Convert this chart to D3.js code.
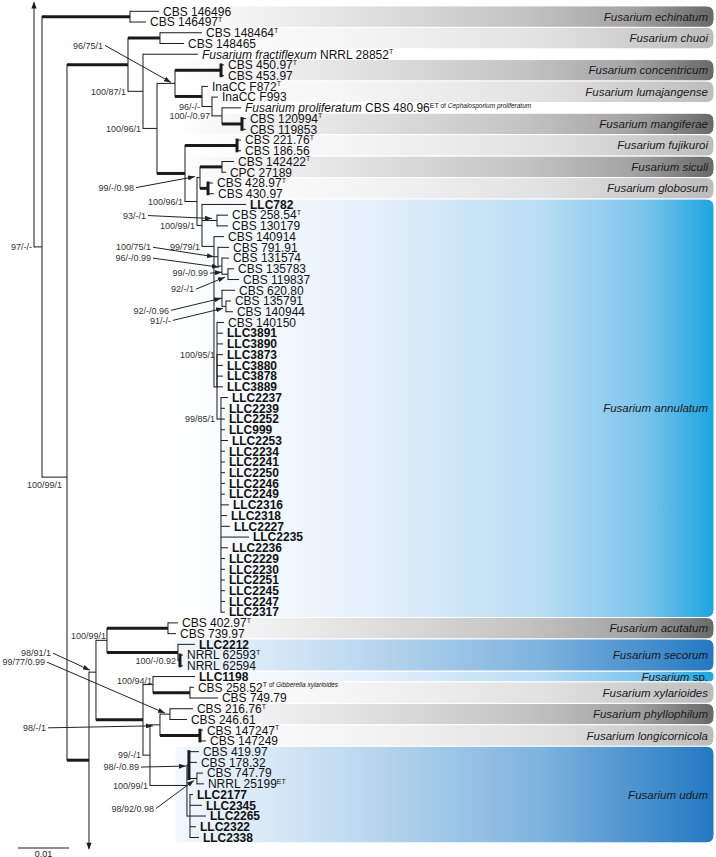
<!DOCTYPE html>
<html><head><meta charset="utf-8">
<script src="https://cdn.jsdelivr.net/npm/d3@7"></script>
<style>
html,body{margin:0;padding:0;background:#fff;}
svg{display:block;font-family:"Liberation Sans",Arial,Helvetica,sans-serif;}
text{white-space:pre;}
</style></head><body>
<svg id="chart" width="716" height="857"></svg>
<script>
// ---------------- DATA ----------------
// Phylogeny (branch lengths in substitutions/site), tips t1..t78 in display order
const treeNewick = `(^:0,(
(t1:0.00569,t2:0.00314)E:0.01725,
(
 (
  (t3:0.00824,t4:0.00471)Ch:0.00627,
  (t5:0.01078,
   (
    (
     (t6:0.00059,t7:0.00059)Conc:0.00902,
     (t8:0.00118,(t9:0.00118,(t10:0.00373,(t11:0.00078,t12:0.00078)Mang:0.00392)M3:0.00196)M2:0.00196)M:0.00529
    )S:0.00353,
    (
     (t13:0.00078,t14:0.00078)Fuj:0.0102,
     (
      ((t15:0.00235,t16:0.00078)Sic:0.00431,(t17:0.00098,t18:0.00118)Glob:0.00157)SG:0.00059,
      (t19:0.00863,
       (t20:0.00216,t21:0.00216)Pr:0.00294,
       (t22:0.00196,
        (t23:0.00216,(t24:0.00137,(t25:0.00118,t26:0.00216)Pb:0.00118)Ga:0.00078)G2:0.00078,
        (t27:0.00255,(t28:0.00098,t29:0.00137)Pc:0.00078)Ng:0.00157,
        (
         (t30:0.00137,t31:0.00118,t32:0.00118,t33:0.00118,t34:0.00118,t35:0.00118,t36:0.00118)N95:0,
         (t37:0.00137,t38:0.00078,t39:0.00078,t40:0.00078,t41:0.00137,t42:0.00078,t43:0.00078,t44:0.00078,t45:0.00078,t46:0.00078,t47:0.00157,t48:0.00118,t49:0.00176,t50:0.00549,t51:0.00137,t52:0.00078,t53:0.00078,t54:0.00078,t55:0.00078,t56:0.00078,t57:0.00078)N85:0.00078
        )P1:0.00059
       )AX:0.00235
      )AN:0.00098
     )T2:0.00235
    )T:0.00549
   )R2:0.00275
  )R:0.00294
 )Q:0.01196,
 (
  (
   ((t58:0.00196,t59:0.00157)Acut:0.01196,(t60:0.00333,(t61:0.00059,t62:0.00059)Sec2:0.00039)Sec:0.01392)B:0.00216,
   (
    (t63:0.00824,(t64:0.00078,t65:0.00549)X2:0.00725)X1:0.00196,
    (
     ((t66:0.00451,t67:0.00333)Phy:0.00196,(t68:0.00059,t69:0.00118)Lon:0.00784)P:0.00196,
     ((t70:0.00196,t71:0.00157,(t72:0.00118,t73:0.00137)U3:0.00157)U1:0.00039,(t74:0.00059,t75:0.00235,t76:0.00314,t77:0.00118,t78:0.00176)UL:0.00059)U:0.00725
    )D:0.00137
   )C:0.00922
  )A:0.00137,
  v:0
 )B2:0.00431
)N2:0.0049
)N1:0.00157)root;`;

// Tip labels (*italic*, ^superscript, [small note])
const tipLabels = [
 "CBS 146496","CBS 146497^T","CBS 148464^T","CBS 148465",
 "*Fusarium fractiflexum* NRRL 28852^T","CBS 450.97^T","CBS 453.97",
 "InaCC F872^T","InaCC F993",
 "*Fusarium proliferatum* CBS 480.96^ET[ of *Cephalosporium proliferatum*]",
 "CBS 120994^T","CBS 119853","CBS 221.76^T","CBS 186.56","CBS 142422^T","CPC 27189",
 "CBS 428.97^T","CBS 430.97","LLC782","CBS 258.54^T","CBS 130179","CBS 140914",
 "CBS 791.91","CBS 131574","CBS 135783","CBS 119837","CBS 620.80","CBS 135791",
 "CBS 140944","CBS 140150","LLC3891","LLC3890","LLC3873","LLC3880","LLC3878","LLC3889",
 "LLC2237","LLC2239","LLC2252","LLC999","LLC2253","LLC2234","LLC2241","LLC2250",
 "LLC2246","LLC2249","LLC2316","LLC2318","LLC2227","LLC2235","LLC2236","LLC2229",
 "LLC2230","LLC2251","LLC2245","LLC2247","LLC2317","CBS 402.97^T","CBS 739.97",
 "LLC2212","NRRL 62593^T","NRRL 62594","LLC1198",
 "CBS 258.52^T[ of *Gibberella xylarioides*]","CBS 749.79","CBS 216.76^T","CBS 246.61",
 "CBS 147247^T","CBS 147249","CBS 419.97","CBS 178.32","CBS 747.79","NRRL 25199^ET",
 "LLC2177","LLC2345","LLC2265","LLC2322","LLC2338"
];
const studyPrefix = "LLC";   // isolates of this study (bold)

// Species clades (bands)
const cladeNames = ["*Fusarium echinatum*","*Fusarium chuoi*","*Fusarium concentricum*",
 "*Fusarium lumajangense*","*Fusarium mangiferae*","*Fusarium fujikuroi*","*Fusarium siculi*",
 "*Fusarium globosum*","*Fusarium annulatum*","*Fusarium acutatum*","*Fusarium secorum*",
 "*Fusarium* sp.","*Fusarium xylarioides*","*Fusarium phyllophilum*","*Fusarium longicornicola*",
 "*Fusarium udum*"];
const cladeFirstTip = [1,3,6,8,11,13,15,17,19,58,60,63,64,66,68,70];
const cladeLastTip  = [2,4,7,9,12,14,16,18,57,59,62,63,65,67,69,78];
const cladeTone = ["dark","light","dark","light","dark","light","dark","light","cyan",
 "dark","blue","cyan","light","dark","light","blue"];

// Support values (ML bootstrap / MP bootstrap / posterior probability)
const supportNodes = ['N1','N2','R','S','R2','M2','M3','T2','SG','AN','Pr','AX','G2','Ga','Pb','Pb',
 'Ng','Pc','N95','N85','B','Sec2','A','X1','Phy','D','P','U','U1','U3'];
const supportValues = ['97/-/-','100/99/1','100/87/1','96/75/1','100/96/1','96/-/-','100/-/0.97',
 '100/96/1','99/-/0.98','100/99/1','93/-/1','99/79/1','100/75/1','96/-/0.99','99/-/0.99','92/-/1',
 '92/-/0.96','91/-/-','100/95/1','99/85/1','100/99/1','100/-/0.92','98/91/1','100/94/1',
 '99/77/0.99','99/-/1','98/-/1','100/99/1','98/-/0.89','98/92/0.98'];

// ---------------- LAYOUT / STYLE ----------------
const supportPlacement = ['left','below','left',[-4,-1,-68,-37],'left','left','left','left',
 [-5,-1,-61,11],'left',[-5,-2,-66,-3],'left',[-4,0,-63,-9.5],[-3,1,-68,-9],[-6,-2,-14,1],
 [-3,3,-31,12],[-1,0,-52,12],[-3,2,-52,12],'left','left','above','left',[-6,-2,-39,-17],
 'above',[-5,-1,-120,-51],'left',[-7,1,-107,2],'left',[-3,1,-47,1],[-3,2,-40,28]];
const nodeAnchor = {N2:0.593, AX:0.065, N85:0.1, A:0.4, U:0.4};
const arrowRows = {top:-0.77, bottom:78};
const boldBranches = ['E','Q','Ch','Conc','M','Mang','T','Fuj','Sic','Glob','B2','Acut','Sec','C','X2','Lon'];
const boldBrackets = ['Conc','Mang','Fuj','Glob','Lon','Sec2','U1'];
const toneStops = {
 dark: [[0,'#ffffff'],[0.3,'#e5e5e5'],[0.65,'#c3c3c3'],[0.85,'#a3a3a3'],[1,'#686868']],
 light:[[0,'#ffffff'],[0.35,'#f4f4f4'],[0.7,'#e0e0e0'],[1,'#bcbcbc']],
 cyan: [[0,'#ffffff'],[0.35,'#e6f1fb'],[0.68,'#b9ddf4'],[0.87,'#7cc4ec'],[1,'#1ba5e1']],
 blue: [[0,'#f3f8fd'],[0.35,'#bcd8ef'],[0.68,'#7db3de'],[1,'#2378c2']]
};

// ---------------- HELPERS ----------------
function parseNewick(str){
  const s = str.replace(/\s+/g,'');
  let i = 0;
  function node(){
    const n = {children:[]};
    if (s[i] === '('){ i++; do { n.children.push(node()); } while (s[i++] === ','); }
    let name=''; while(i<s.length && !',():;'.includes(s[i])) name += s[i++];
    n.name = name;
    n.len = 0;
    if (s[i] === ':'){ i++; let num=''; while(i<s.length && !',();'.includes(s[i])) num += s[i++]; n.len = +num; }
    if (!n.children.length) delete n.children;
    return n;
  }
  return node();
}
function parseMarkup(str){
  const out=[]; const re=/\*([^*]+)\*|\^([A-Z]+)|\[([^\]]+)\]|([^*^\[]+)/g; let m;
  while((m=re.exec(str))){
    if(m[1]) out.push({t:m[1],it:1});
    else if(m[2]) out.push({t:m[2],sup:1});
    else if(m[3]) m[3].split(/(\*[^*]+\*)/).filter(Boolean).forEach(p=>{
      if(p[0]==='*') out.push({t:p.slice(1,-1),note:1,it:1}); else out.push({t:p,note:1});
    });
    else out.push({t:m[4]});
  }
  return out;
}
function richText(sel, str){
  let raised=false;
  parseMarkup(str).forEach(s=>{
    const ts = sel.append('tspan').text(s.t);
    const want = !!(s.sup||s.note);
    if(want && !raised){ ts.attr('dy',-4.5); raised=true; }
    else if(!want && raised){ ts.attr('dy',4.5); raised=false; }
    if(s.sup) ts.attr('font-size',7).attr('font-weight','normal');
    if(s.note) ts.attr('font-size',6.5).attr('font-weight','normal');
    if(s.it) ts.attr('font-style','italic');
  });
}

// ---------------- SCALES & LAYOUT ----------------
const svg = d3.select('#chart');
const xScale = d3.scaleLinear().domain([0,0.01]).range([34,85]);
const yScale = d3.scaleLinear().domain([0,77]).range([11.3,837.5]);
const bandX0 = 175, bandX1 = 714;

const root = d3.hierarchy(parseNewick(treeNewick));
root.each(d=>{ d.dist = d.parent ? d.parent.dist + d.data.len : 0; d.x = xScale(d.dist); });
root.eachAfter(d=>{
  if(!d.children){
    const nm = d.data.name;
    d.y = nm==='^' ? yScale(arrowRows.top) : nm==='v' ? yScale(arrowRows.bottom) : yScale(+nm.slice(1)-1);
  } else {
    const f = nodeAnchor[d.data.name] ?? 0.5;
    const a = d.children[0].y, b = d.children[d.children.length-1].y;
    d.y = a + f*(b-a);
  }
});
const byName = {}; root.each(d=>{ byName[d.data.name]=d; });

// ---------------- DEFS ----------------
const defs = svg.append('defs');
Object.entries(toneStops).forEach(([k,stops])=>{
  const g = defs.append('linearGradient').attr('id','g-'+k).attr('gradientUnits','userSpaceOnUse')
    .attr('x1',bandX0).attr('x2',bandX1).attr('y1',0).attr('y2',0);
  stops.forEach(([o,c])=>g.append('stop').attr('offset',o).attr('stop-color',c));
});
defs.append('marker').attr('id','arr').attr('viewBox','0 0 7 5').attr('refX',7).attr('refY',2.5)
  .attr('markerWidth',7).attr('markerHeight',5).attr('markerUnits','userSpaceOnUse').attr('orient','auto')
  .append('path').attr('d','M0,0L7,2.5L0,5Z').attr('fill','#222');

// ---------------- BANDS ----------------
function bandPath(x0,x1,y0,y1){
  const r = Math.min(8,(y1-y0)/2);
  return `M${x0},${y0}H${x1-r}Q${x1},${y0} ${x1},${y0+r}V${y1-r}Q${x1},${y1} ${x1-r},${y1}H${x0}Z`;
}
const bands = svg.append('g');
cladeNames.forEach((nm,i)=>{
  const y0 = yScale(cladeFirstTip[i]-1.5), y1 = yScale(cladeLastTip[i]-0.5);
  bands.append('path').attr('d',bandPath(bandX0,bandX1,y0,y1))
    .attr('fill',`url(#g-${cladeTone[i]})`).attr('stroke','#fff').attr('stroke-width',1);
  const t = bands.append('text').attr('x',708).attr('y',(y0+y1)/2+4).attr('text-anchor','end')
    .attr('font-size',11.5).attr('fill','#1a1a1a');
  richText(t, nm);
});

// ---------------- TREE ----------------
const gTree = svg.append('g').attr('stroke','#1a1a1a').attr('fill','none');
gTree.selectAll('line.h').data(root.descendants().filter(d=>d.parent && d.data.len>0))
  .join('line').attr('class','h')
  .attr('x1',d=>d.parent.x).attr('x2',d=>d.x).attr('y1',d=>d.y).attr('y2',d=>d.y)
  .attr('stroke-width',d=>boldBranches.includes(d.data.name)?3:1);
gTree.selectAll('line.v').data(root.descendants().filter(d=>d.children))
  .join('line').attr('class','v')
  .attr('x1',d=>d.x).attr('x2',d=>d.x)
  .attr('y1',d=>d.children[0].y).attr('y2',d=>d.children[d.children.length-1].y)
  .attr('stroke-linecap','square')
  .attr('stroke-width',d=>boldBrackets.includes(d.data.name)?3:1);
// truncated branches (arrows)
svg.append('g').selectAll('path').data(root.leaves().filter(d=>d.data.name==='^'||d.data.name==='v'))
  .join('path').attr('fill','#1a1a1a')
  .attr('d',d=>{ const s = d.data.name==='^' ? 1 : -1; const tipY = d.y - s*1.5;
    return `M${d.x},${tipY}L${d.x-2.6},${tipY+s*7}L${d.x+2.6},${tipY+s*7}Z`; });

// ---------------- TIP LABELS ----------------
const gTips = svg.append('g').attr('font-size',12).attr('fill','#111');
root.leaves().filter(d=>/^t\d+$/.test(d.data.name)).forEach(d=>{
  const lab = tipLabels[+d.data.name.slice(1)-1];
  const t = gTips.append('text').attr('x',d.x+4).attr('y',d.y+4.3)
    .attr('font-weight',lab.startsWith(studyPrefix)?'bold':'normal');
  richText(t, lab);
});

// ---------------- SUPPORT VALUES ----------------
const gSup = svg.append('g').attr('font-size',9).attr('fill','#333');
supportValues.forEach((val,i)=>{
  const n = byName[supportNodes[i]], pl = supportPlacement[i];
  let x,y;
  if(pl==='left'){ x=n.parent.x-2; y=n.y+3.2; }
  else if(pl==='above'){ x=n.x-1; y=n.y-1; }
  else if(pl==='below'){ x=n.x-5; y=n.y+10.5; }
  else {
    const tx=n.x+pl[0], ty=n.y+pl[1], lx=tx+pl[2], ly=ty+pl[3];
    svg.append('line').attr('x1',lx+2).attr('y1',ly).attr('x2',tx).attr('y2',ty)
      .attr('stroke','#222').attr('stroke-width',1).attr('marker-end','url(#arr)');
    x=lx; y=ly+3.2;
  }
  gSup.append('text').attr('x',x).attr('y',y).attr('text-anchor','end').text(val);
});

// ---------------- SCALE BAR ----------------
const sbLen = xScale(0.01)-xScale(0), sbX = 18, sbY = 848;
svg.append('line').attr('x1',sbX).attr('x2',sbX+sbLen).attr('y1',sbY).attr('y2',sbY)
  .attr('stroke','#1a1a1a').attr('stroke-width',1.2);
svg.append('text').attr('x',sbX+sbLen/2).attr('y',856.5).attr('text-anchor','middle')
  .attr('font-size',9).attr('fill','#222').text('0.01');
</script>
</body></html>
